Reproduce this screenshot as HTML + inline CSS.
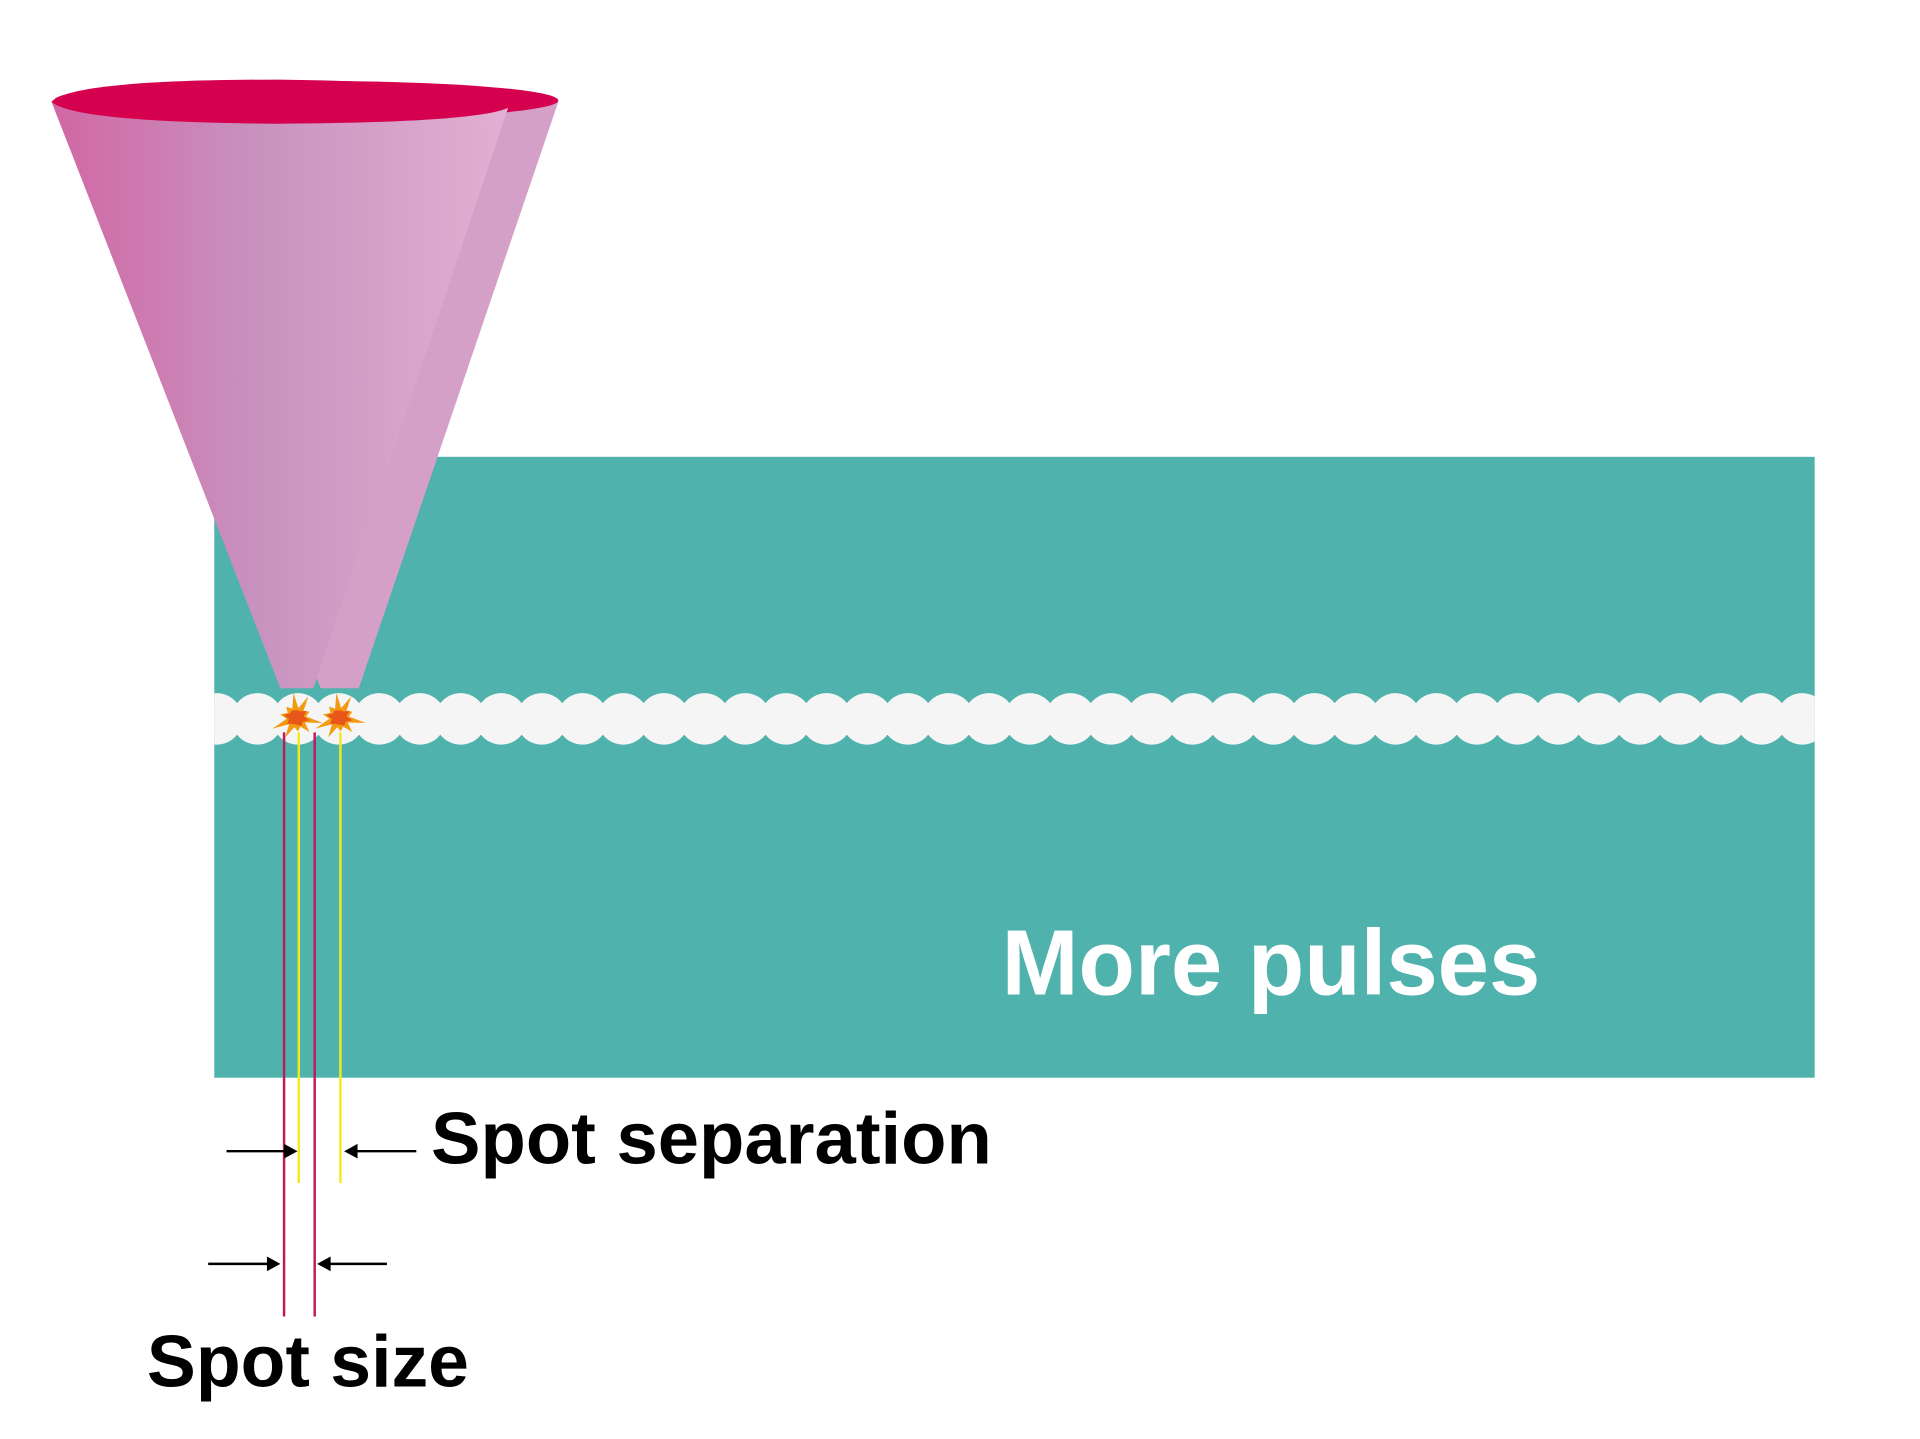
<!DOCTYPE html>
<html><head><meta charset="utf-8"><style>html,body{margin:0;padding:0;background:#fff}svg{display:block}</style></head>
<body>
<svg width="1920" height="1439" viewBox="0 0 1568 1175" preserveAspectRatio="none" xmlns="http://www.w3.org/2000/svg">
<defs>
<linearGradient id="g1" x1="0" x2="1" y1="0" y2="0">
<stop offset="0" stop-color="#d167a5"/><stop offset="0.45" stop-color="#c892bf"/><stop offset="1" stop-color="#e2b0d2"/>
</linearGradient>
<clipPath id="rc"><rect x="175" y="373" width="1307" height="507"/></clipPath>
</defs>
<rect x="175" y="373" width="1307" height="507" fill="#50b2ac"/>
<g clip-path="url(#rc)" fill="#f5f5f5">
<rect x="175" y="574" width="1307" height="26"/>
<g id="circ"></g>
</g>
<polygon points="70,80 456,83 293,562 262,562" fill="#d4a0c8"/>
<ellipse cx="250" cy="82" rx="206" ry="16" fill="#d5004e"/>
<polygon points="42,83 415,88 256,562 229,562" fill="url(#g1)"/>
<path d="M42,83 Q60,65 228,65 Q400,67 415,88 Q390,100 228,101 Q60,100 42,83Z" fill="#d5004e"/>
<g id="spots"></g>
<line x1="232" y1="598" x2="232" y2="1075" stroke="#c2185b" stroke-width="2"/>
<line x1="257" y1="598" x2="257" y2="1075" stroke="#c2185b" stroke-width="2"/>
<line x1="244" y1="598" x2="244" y2="966" stroke="#f2ea1c" stroke-width="2"/>
<line x1="278" y1="598" x2="278" y2="966" stroke="#f2ea1c" stroke-width="2"/>
<g stroke="#000" stroke-width="2" fill="#000">
<line x1="185" y1="940" x2="233" y2="940"/><polygon points="243,940 232,934 232,946" stroke="none"/>
<line x1="340" y1="940" x2="291" y2="940"/><polygon points="281,940 292,934 292,946" stroke="none"/>
<line x1="170" y1="1032" x2="219" y2="1032"/><polygon points="229,1032 218,1026 218,1038" stroke="none"/>
<line x1="316" y1="1032" x2="269" y2="1032"/><polygon points="259,1032 270,1026 270,1038" stroke="none"/>
</g>
<g font-family="Liberation Sans, sans-serif" font-weight="bold">
<text x="818" y="812" font-size="76" fill="#fff" textLength="440" lengthAdjust="spacingAndGlyphs">More pulses</text>
<text x="352" y="950" font-size="60" fill="#000" textLength="458" lengthAdjust="spacingAndGlyphs">Spot separation</text>
<text x="120" y="1132" font-size="60" fill="#000" textLength="263" lengthAdjust="spacingAndGlyphs">Spot size</text>
</g>
</svg>
<script>
var ns="http://www.w3.org/2000/svg";
var g=document.getElementById("circ");
for(var x=177;x<1500;x+=33.2){var c=document.createElementNS(ns,"circle");c.setAttribute("cx",x);c.setAttribute("cy",587);c.setAttribute("r",21);g.appendChild(c);}
var s=document.getElementById("spots");
function star(cx,cy,r1,r2,n,fill){var p=[];for(var i=0;i<2*n;i++){var a=Math.PI*i/n+0.2;var r=i%2?r2:r1*(0.75+0.25*Math.cos(i*2.3));p.push((cx+r*Math.cos(a)).toFixed(1)+","+(cy+r*Math.sin(a)).toFixed(1));}
var e=document.createElementNS(ns,"polygon");e.setAttribute("points",p.join(" "));e.setAttribute("fill",fill);s.appendChild(e);}
[[242,586],[277,586]].forEach(function(q){star(q[0],q[1],22,8,10,"#f39a12");star(q[0],q[1],11,6,8,"#e8561a");});
</script>
</body></html>
